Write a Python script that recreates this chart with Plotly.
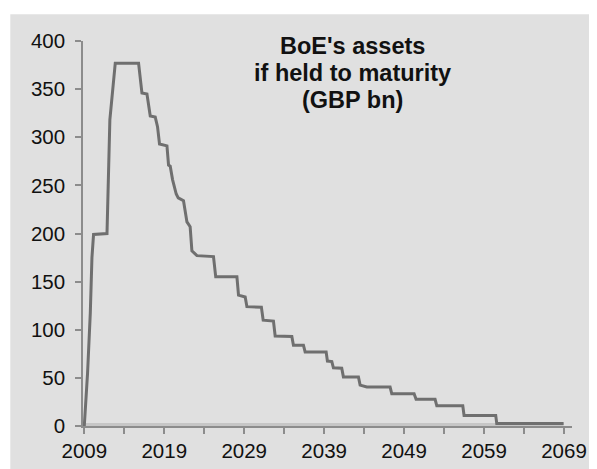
import plotly.graph_objects as go

# Data (BoE's assets if held to maturity, GBP bn)
years = [2009.0, 2009.41, 2009.75, 2009.96, 2010.16, 2011.84, 2012.2, 2012.3, 2012.875,
         2015.79, 2016.0, 2016.21, 2016.84, 2017.04, 2017.25, 2017.875, 2018.16, 2018.41,
         2019.34, 2019.54, 2019.75, 2020.04, 2020.5, 2020.75, 2021.41, 2021.84, 2022.24,
         2022.46, 2023.09, 2025.16, 2025.44, 2028.09, 2028.29, 2029.125, 2029.34, 2031.15,
         2031.375, 2032.66, 2032.875, 2034.96, 2035.16, 2036.41, 2036.625, 2039.25, 2039.41,
         2039.96, 2040.16, 2041.2, 2041.41, 2043.29, 2043.5, 2044.34, 2047.25, 2047.46,
         2050.25, 2050.5, 2052.875, 2053.09, 2056.34, 2056.5, 2060.46, 2060.59, 2068.95]
assets = [0, 55, 117, 175, 199, 200, 318, 326, 377,
          377, 361, 346, 345, 333, 322, 321, 311, 293,
          291, 271, 270, 256, 241, 237, 234, 212, 207,
          182, 177, 176, 155, 155, 136, 134, 124, 123.5,
          110, 109, 93.5, 93, 84, 84, 77, 77, 67.5,
          67, 60.5, 60, 51, 51, 42.5, 40.5, 40.5, 33.5,
          33.5, 27.7, 27.7, 21, 21, 11, 11, 2.5, 2.5]

# faint second series lying along the zero line
baseline_years = [2009.0, 2068.95]
baseline_vals = [1.5, 1.5]

tick_vals = [2009, 2014, 2019, 2024, 2029, 2034, 2039, 2044, 2049, 2054, 2059, 2064, 2069]
tick_text = ["2009", "", "2019", "", "2029", "", "2039", "", "2049", "", "2059", "", "2069"]
y_ticks = [0, 50, 100, 150, 200, 250, 300, 350, 400]
title_lines = ["BoE's assets", "if held to maturity", "(GBP bn)"]

# page body adds an 8px offset; work in page pixel coordinates
OFF = 8
PAGE_W, PAGE_H = 597, 469
W, H = PAGE_W - OFF, PAGE_H - OFF
plot_left, plot_right, plot_top, plot_bottom = 82.7, 571.7, 40.7, 425.7
L = plot_left - OFF
T = plot_top - OFF
R = PAGE_W - plot_right
B = PAGE_H - plot_bottom
pw, ph = plot_right - plot_left, plot_bottom - plot_top

def px_x(x):
    return (x - plot_left) / pw

def px_y(y):
    return (plot_bottom - y) / ph

fig = go.Figure()
fig.add_trace(go.Scatter(x=baseline_years, y=baseline_vals, mode="lines",
                         line=dict(color="#c6c6c6", width=3), hoverinfo="skip"))
fig.add_trace(go.Scatter(x=years, y=assets, mode="lines",
                         line=dict(color="#6f6f6f", width=3), hoverinfo="skip"))

fig.add_shape(type="rect", xref="paper", yref="paper",
              x0=px_x(10), x1=px_x(PAGE_W + 5), y0=px_y(PAGE_H + 5), y1=px_y(14),
              fillcolor="#e0e0e0", line=dict(width=0), layer="below")

for i, txt in enumerate(title_lines):
    fig.add_annotation(text="<b>%s</b>" % txt, xref="paper", yref="paper",
                       x=px_x(352), y=px_y(45.5 + 27.0 * i), xanchor="center", yanchor="middle",
                       showarrow=False, font=dict(family="Liberation Sans, Arial", size=23.5, color="#111111"))

axis_common = dict(showgrid=False, zeroline=False, showline=True, linecolor="#8c8c8c", linewidth=1.5,
                   ticks="outside", ticklen=6, tickwidth=1.5, tickcolor="#8c8c8c",
                   tickfont=dict(family="Liberation Sans, Arial", size=20.5, color="#111111"))

fig.update_xaxes(range=[2008.84, 2070.0], tickmode="array", tickvals=tick_vals, ticktext=tick_text,
                 **axis_common)
fig.update_yaxes(range=[0, 400], tickmode="array", tickvals=y_ticks, ticklabelstandoff=6,
                 **axis_common)

fig.update_layout(width=W, height=H, margin=dict(l=L, r=R, t=T, b=B, autoexpand=False),
                  paper_bgcolor="white", plot_bgcolor="rgba(0,0,0,0)", showlegend=False,
                  font=dict(family="Liberation Sans, Arial"))

fig.write_html("out.html")
